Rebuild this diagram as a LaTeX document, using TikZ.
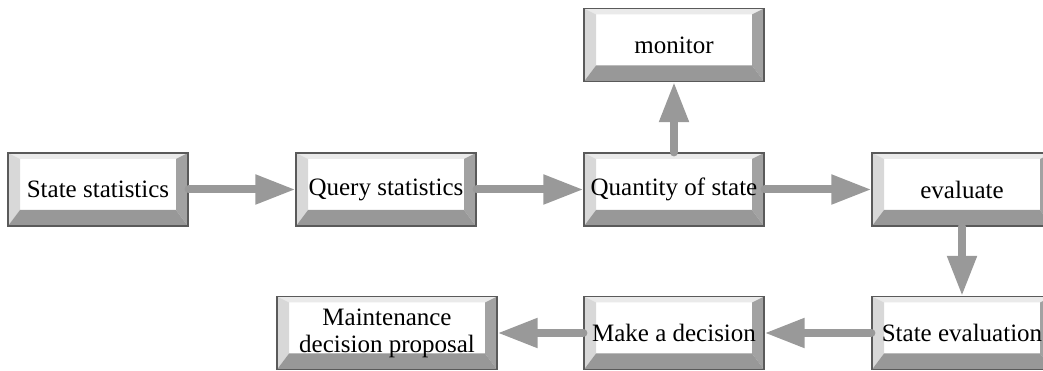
\documentclass[tikz,border=0pt]{standalone}
\usepackage{fontspec}
\setmainfont{Liberation Serif}
\usepackage{tikz}
\usetikzlibrary{arrows,arrows.meta,shapes,positioning,calc}

\definecolor{edgegray}{HTML}{5A5A5A}
\definecolor{bevtop}{HTML}{EAEAEA}
\definecolor{bevleft}{HTML}{D8D8D8}
\definecolor{bevright}{HTML}{A2A2A2}
\definecolor{bevbottom}{HTML}{989898}
\definecolor{arrowgray}{HTML}{999999}

\begin{document}
\begin{tikzpicture}[
    x=1pt, y=1pt,
    block/.style={rectangle, draw=edgegray, line width=1.2pt, fill=white, minimum width=180pt, minimum height=73pt, inner sep=0pt, align=center, font=\fontsize{25}{27}\selectfont,
        path picture={
            \fill[bevtop] (path picture bounding box.north west) -- (path picture bounding box.north east) -- ([shift={(-12pt,-6pt)}]path picture bounding box.north east) -- ([shift={(12pt,-6pt)}]path picture bounding box.north west) -- cycle;
            \fill[bevleft] (path picture bounding box.north west) -- ([shift={(12pt,-6pt)}]path picture bounding box.north west) -- ([shift={(12pt,16pt)}]path picture bounding box.south west) -- (path picture bounding box.south west) -- cycle;
            \fill[bevright] (path picture bounding box.north east) -- ([shift={(-12pt,-6pt)}]path picture bounding box.north east) -- ([shift={(-12pt,16pt)}]path picture bounding box.south east) -- (path picture bounding box.south east) -- cycle;
            \fill[bevbottom] (path picture bounding box.south west) -- ([shift={(12pt,16pt)}]path picture bounding box.south west) -- ([shift={(-12pt,16pt)}]path picture bounding box.south east) -- (path picture bounding box.south east) -- cycle;
        }},
    arrow/.style={-{Triangle[length=40pt,width=28pt]}, line width=8pt, line cap=round, draw=arrowgray}
]
\clip (0,0) rectangle (1043,371);

% Draw blocks
\node[block] (statstat) at (98,181.5) {State statistics};
\node[block] (querystat) at (386,181.5) {Query statistics};
\node[block] (quantity) at (674,181.5) {Quantity of state};
\node[block] (evaluate) at (962,181.5) {evaluate};
\node[block] (monitor) at (674,326) {monitor};

\node[block] (steval) at (962,38) {State evaluation};
\node[block] (decision) at (674,38) {Make a decision};
\node[block, minimum width=220pt] (proposal) at (387,38) {Maintenance\\decision proposal};

% Draw arrows
\draw[arrow] (statstat.east) -- (querystat.west);
\draw[arrow] (querystat.east) -- (quantity.west);
\draw[arrow] (quantity.east) -- (evaluate.west);
\draw[arrow] (quantity.north) -- (monitor.south);
\draw[arrow] (evaluate.south) -- (steval.north);
\draw[arrow] (steval.west) -- (decision.east);
\draw[arrow] (decision.west) -- (proposal.east);

\end{tikzpicture}
\end{document}
